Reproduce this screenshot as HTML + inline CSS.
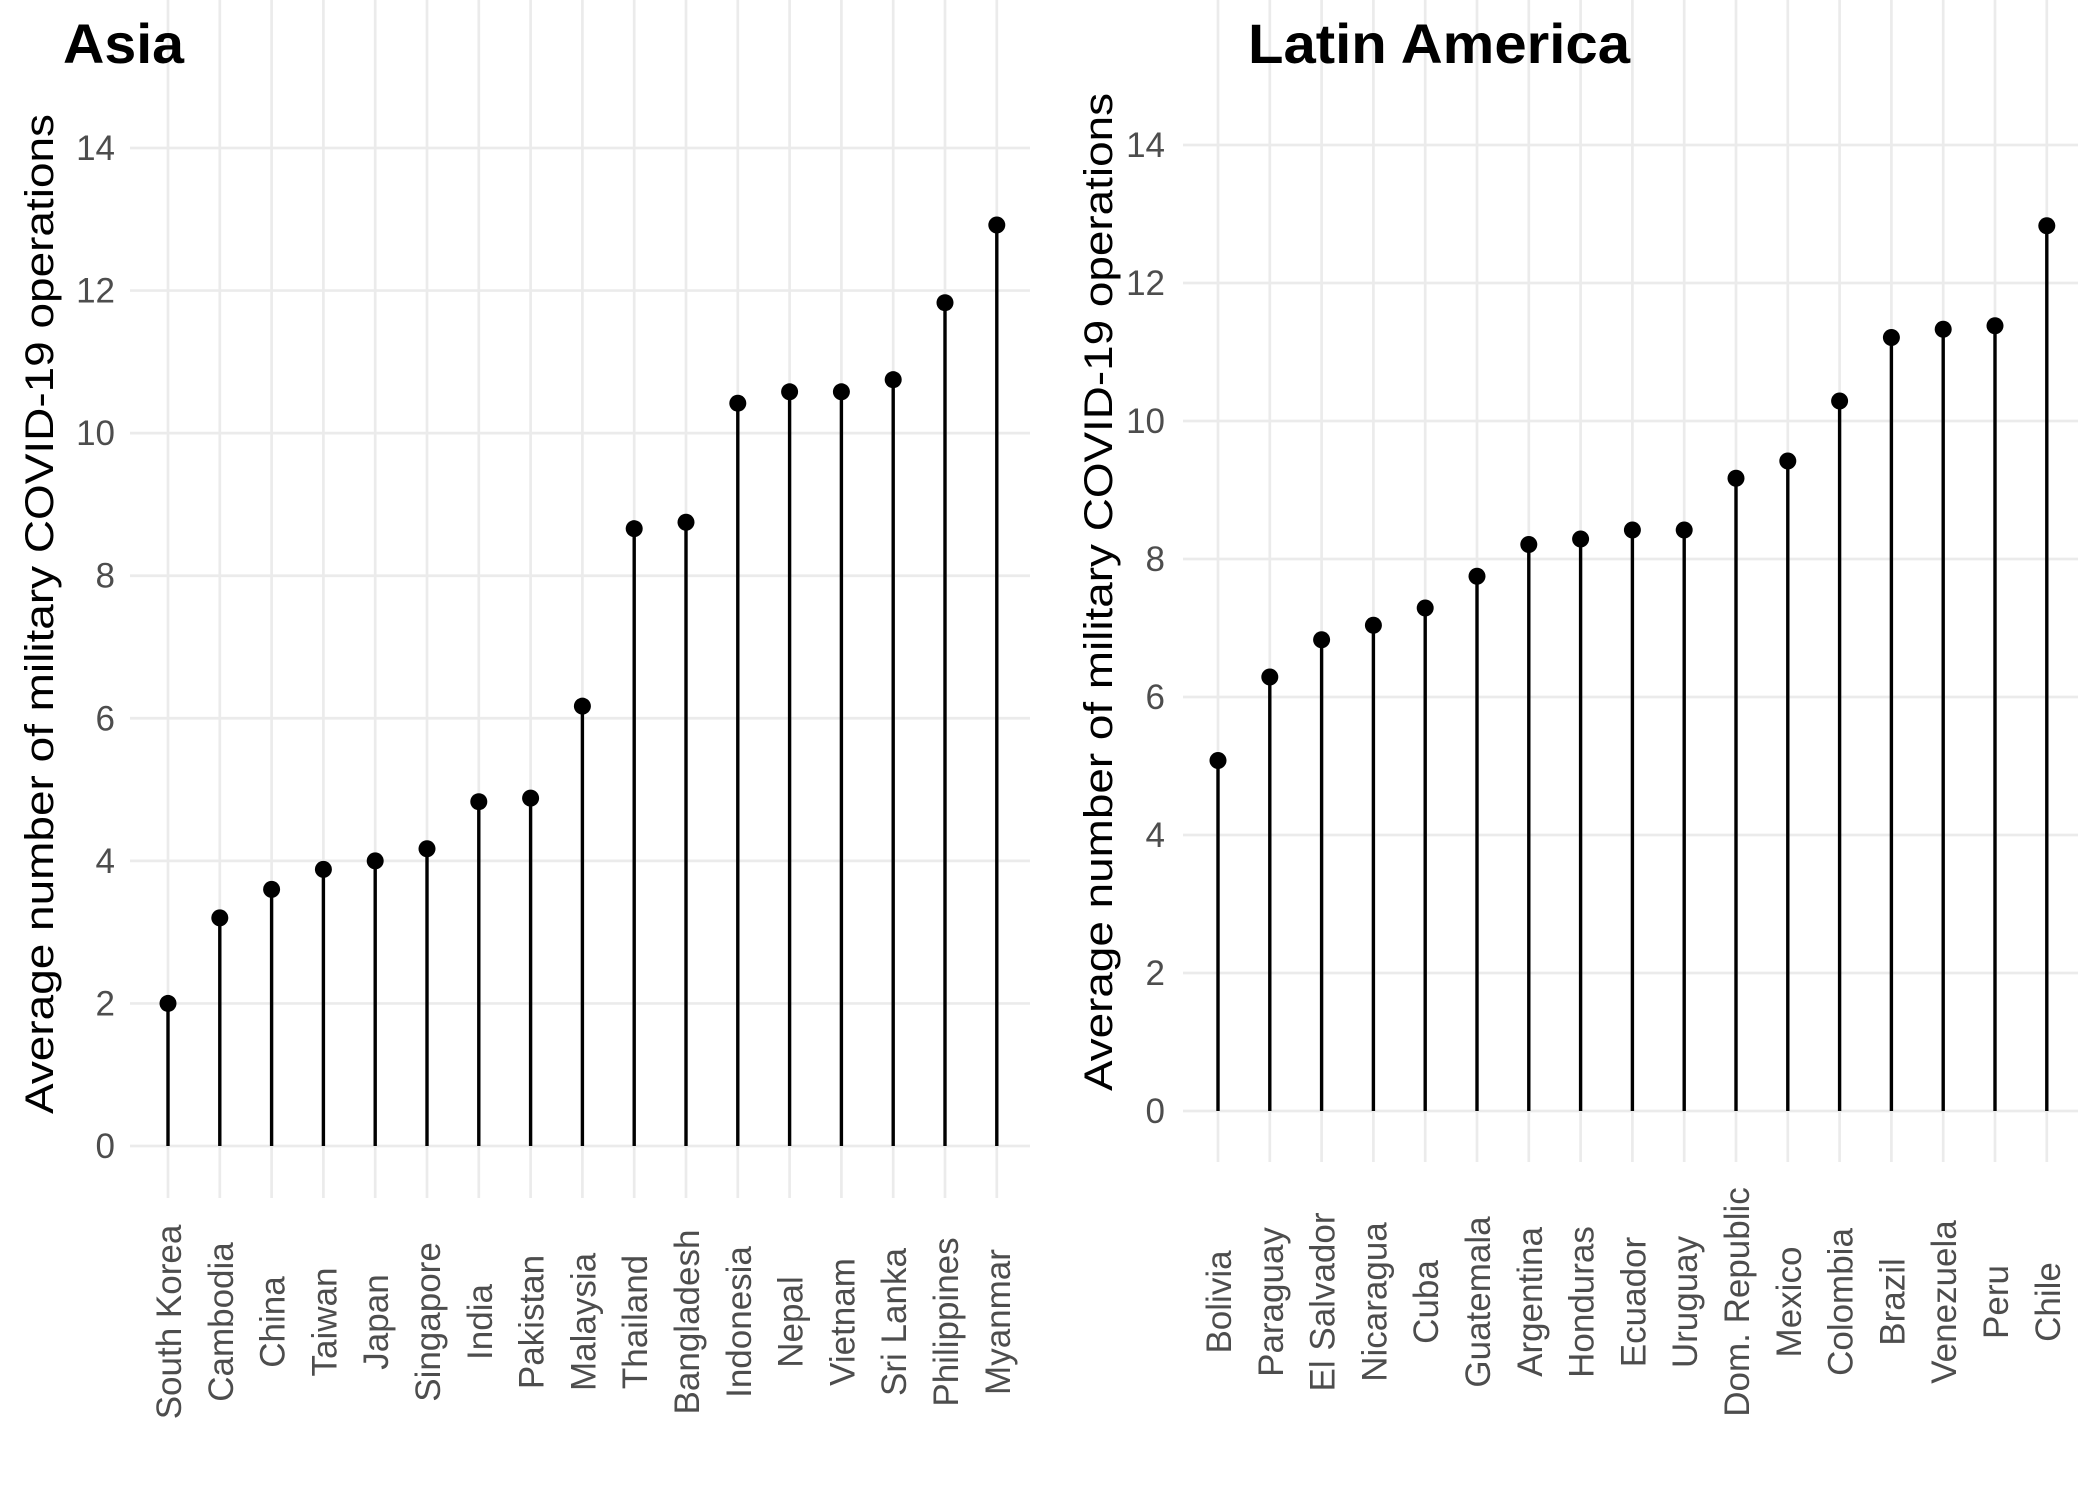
<!DOCTYPE html>
<html><head><meta charset="utf-8"><style>
html,body{margin:0;padding:0;background:#fff;}
svg{display:block;font-family:"Liberation Sans",Arial,sans-serif;}
</style></head><body>
<svg id="svg" width="2100" height="1500" viewBox="0 0 2100 1500" xmlns="http://www.w3.org/2000/svg"></svg>
<script>
var NS="http://www.w3.org/2000/svg", svg=document.getElementById('svg');
function el(tag,attrs,txt){var e=document.createElementNS(NS,tag);for(var k in attrs)e.setAttribute(k,attrs[k]);if(txt!=null)e.textContent=txt;svg.appendChild(e);return e;}
function panel(o){
  var y=function(v){return o.y0-(o.y0-o.y14)*v/14;};
  var i,x,v,S=51.8;
  for(i=0;i<o.names.length;i++){x=o.x0+i*S;
    el('line',{x1:x,x2:x,y1:0,y2:o.gb,stroke:'#ebebeb','stroke-width':2.7});}
  for(v=0;v<=14;v+=2){
    el('line',{x1:o.gl,x2:o.gr,y1:y(v),y2:y(v),stroke:'#ebebeb','stroke-width':2.7});
    el('text',{x:o.tx,y:y(v)+12,'text-anchor':'end','font-size':35,fill:'#4d4d4d'},String(v));}
  for(i=0;i<o.names.length;i++){x=o.x0+i*S;var yy=y(o.vals[i]);
    el('line',{x1:x,x2:x,y1:o.y0,y2:yy,stroke:'#000','stroke-width':3.4});
    el('circle',{cx:x,cy:yy,r:8.5,fill:'#000'});
    el('text',{transform:'translate('+(x+13)+','+o.ly+') rotate(-90)','text-anchor':'middle','font-size':35,fill:'#4d4d4d'},o.names[i]);}
  el('text',{transform:'translate('+o.ax+','+o.ay+') rotate(-90)','text-anchor':'middle','font-size':40,fill:'#000',textLength:o.al,lengthAdjust:'spacingAndGlyphs'},'Average number of military COVID-19 operations');
  el('text',{x:o.tix,y:63,'font-size':56,'font-weight':'bold',fill:'#000',textLength:o.tl,lengthAdjust:'spacingAndGlyphs'},o.title);
}
panel({x0:168,y0:1146,y14:148,gb:1198,gl:130,gr:1030,tx:115,ly:1322,ax:53,ay:614,al:1000,tix:63,tl:121,title:'Asia',
 names:['South Korea','Cambodia','China','Taiwan','Japan','Singapore','India','Pakistan','Malaysia','Thailand','Bangladesh','Indonesia','Nepal','Vietnam','Sri Lanka','Philippines','Myanmar'],
 vals:[2.0,3.2,3.6,3.88,4.0,4.17,4.83,4.88,6.17,8.66,8.75,10.42,10.58,10.58,10.75,11.83,12.92]});
panel({x0:1218,y0:1111,y14:145,gb:1162,gl:1183,gr:2078,tx:1165,ly:1302,ax:1112,ay:592,al:998,tix:1248,tl:382,title:'Latin America',
 names:['Bolivia','Paraguay','El Salvador','Nicaragua','Cuba','Guatemala','Argentina','Honduras','Ecuador','Uruguay','Dom. Republic','Mexico','Colombia','Brazil','Venezuela','Peru','Chile'],
 vals:[5.08,6.29,6.83,7.04,7.29,7.75,8.21,8.29,8.42,8.42,9.17,9.42,10.29,11.21,11.33,11.38,12.83]});
</script>
</body></html>
